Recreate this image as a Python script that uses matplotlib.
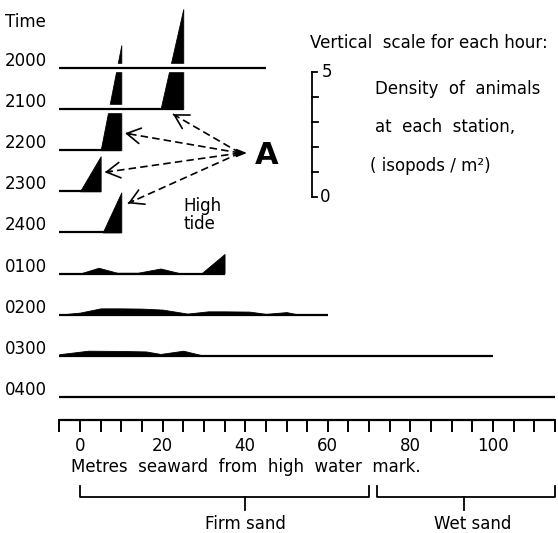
import matplotlib.pyplot as plt
import numpy as np

# hourly transects, top to bottom
hours = ["2000", "2100", "2200", "2300", "2400", "0100", "0200", "0300", "0400"]
line_end = [45, 25, 10, 5, 10, 35, 60, 100, 115]  # seaward end of each line (m)

# density profiles (isopods / m^2) as (metres, density) vertices
prof_x = {
    "2100": [19.5, 25, 25],
    "2200": [5, 10, 10],
    "2300": [0, 5, 5],
    "2400": [5.5, 10, 10],
    "0100": [-5, 0, 4.5, 9, 14, 19.5, 24, 29.5, 35, 35],
    "0200": [-5, 0, 5, 10, 15, 20, 26, 31, 35, 41, 45, 50, 53],
    "0300": [-5, 2, 10, 16, 19.5, 25, 30],
}
prof_d = {
    "2100": [0, 4.0, 0],
    "2200": [0, 4.2, 0],
    "2300": [0, 1.4, 0],
    "2400": [0, 1.6, 0],
    "0100": [0, 0, 0.23, 0.03, 0.03, 0.2, 0.02, 0.02, 0.78, 0],
    "0200": [0, 0.08, 0.25, 0.25, 0.24, 0.2, 0.04, 0.13, 0.13, 0.12, 0.03, 0.1, 0],
    "0300": [0.06, 0.2, 0.19, 0.17, 0.07, 0.2, 0],
}

tick_labels = [0, 20, 40, 60, 80, 100]
zones = ["Firm sand", "Wet sand"]
zone_start = [0, 72]
zone_end = [70, 115]
zone_mid = [40, 93]

# page layout (pixels) -> data
W, H = 558, 533
X0, PX_M, PX_U = 80, 4.13, 25.0


def fx(px):
    return (px - X0) / PX_M


def fy(py):
    return (H - py) / PX_U


plt.rcParams["font.family"] = ["DejaVu Sans"]
FS = 12

fig = plt.figure(figsize=(W / 100, H / 100), dpi=100)
ax = fig.add_axes([0, 0, 1, 1])
ax.set_xlim(fx(0), fx(W))
ax.set_ylim(fy(H), fy(0))
ax.axis("off")

base = [fy(68 + 41.1 * i) for i in range(len(hours))]

z = 2
for i in reversed(range(len(hours))):
    h, b = hours[i], base[i]
    ax.plot([-5, line_end[i]], [b, b], color="white", lw=6, solid_capstyle="butt", zorder=z)
    ax.plot([-5, line_end[i]], [b, b], color="black", lw=1.6, solid_capstyle="butt", zorder=z + 1)
    if h in prof_x:
        ax.fill_between(prof_x[h], b, b + np.array(prof_d[h]), color="black", lw=0.6, zorder=z + 2)
    z += 3
    ax.text(fx(47), b + 7 / PX_U, h, ha="right", va="center", fontsize=FS)

ax.text(fx(5), fy(22), "Time", ha="left", va="center", fontsize=FS)

# arrows from "A" to the high-tide peaks
start = (fx(240), fy(153))
tips = [(22.5, -0.2), (10.9, 0.68), (6.0, 0.76), (11.6, 1.16)]
for (tx, dy), b in zip(tips, base[1:5]):
    ty = b + dy
    ax.plot([start[0], tx], [start[1], ty], color="black", lw=1.2, dashes=(4.5, 2.5), zorder=50)
    vx, vy = tx - start[0], ty - start[1]
    ax.annotate("", xy=(tx, ty), xytext=(tx - 0.05 * vx, ty - 0.05 * vy),
                arrowprops=dict(arrowstyle="->,head_length=0.7,head_width=0.4", lw=1.2,
                                shrinkA=0, shrinkB=0, mutation_scale=14), zorder=51)
ax.annotate("", xy=(fx(247), fy(153)), xytext=(fx(236), fy(153)),
            arrowprops=dict(arrowstyle="-|>,head_length=0.5,head_width=0.2", lw=1.2, color="black",
                            shrinkA=0, shrinkB=0, mutation_scale=12), zorder=51)
ax.text(fx(267), fy(156), "A", ha="center", va="center", fontsize=22, fontweight="heavy")
ax.text(fx(183), fy(215), "High\ntide", ha="left", va="center", fontsize=FS, linespacing=1.05)

# vertical scale
sx, s0 = fx(312), fy(197)
ax.plot([sx, sx], [s0, s0 + 5], color="black", lw=1.3)
for k in range(6):
    ln = 1.2 if k in (0, 5) else 1.5
    ax.plot([sx, sx + ln], [s0 + k, s0 + k], color="black", lw=1.3)
ax.text(fx(322), s0 + 5, "5", ha="left", va="center", fontsize=FS)
ax.text(fx(320), s0, "0", ha="left", va="center", fontsize=FS)
ax.text(fx(310), fy(43), "Vertical  scale for each hour:", ha="left", va="center", fontsize=FS)
ax.text(fx(375), fy(89), "Density  of  animals", ha="left", va="center", fontsize=FS)
ax.text(fx(375), fy(127), "at  each  station,", ha="left", va="center", fontsize=FS)
ax.text(fx(370), fy(166), "( isopods / m\u00b2)", ha="left", va="center", fontsize=FS)

# distance axis
ay = fy(420)
ax.plot([-5, 115], [ay, ay], color="black", lw=1.6, solid_capstyle="butt")
for t in np.arange(-5, 116, 5):
    ax.plot([t, t], [ay, ay - 11 / PX_U], color="black", lw=1.4)
for t in tick_labels:
    ax.text(t, fy(446), str(t), ha="center", va="center", fontsize=FS)
ax.text(fx(71), fy(467), "Metres  seaward  from  high  water  mark.", ha="left", va="center", fontsize=FS)

by, bu, bd = fy(497), fy(486), fy(510)
for name, a, e, m in zip(zones, zone_start, zone_end, zone_mid):
    ax.plot([a, a, e, e], [bu, by, by, bu], color="black", lw=1.3)
    ax.plot([m, m], [by, bd], color="black", lw=1.3)
ax.text(40, fy(524), zones[0], ha="center", va="center", fontsize=FS)
ax.text(95, fy(524), zones[1], ha="center", va="center", fontsize=FS)

fig.savefig("out.png", dpi=100)
